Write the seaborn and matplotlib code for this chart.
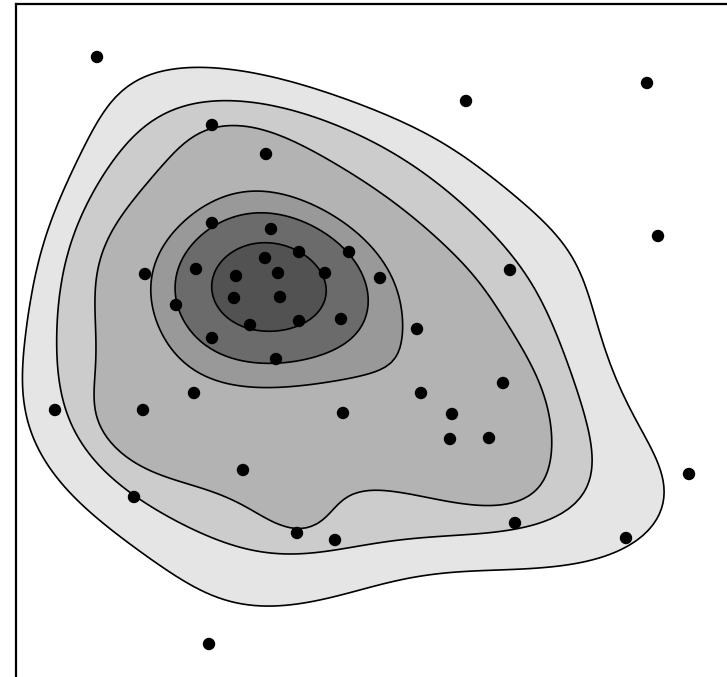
import matplotlib
matplotlib.use("Agg")
import matplotlib.pyplot as plt
import seaborn as sns
import pandas as pd
from matplotlib.colors import ListedColormap

# point positions (x to the right, y upward)
xs = [97, 647, 466, 212, 266, 658, 212, 271, 299, 349, 265, 196, 145, 236, 278,
      325, 510, 380, 234, 280, 176, 341, 299, 250, 417, 212, 276, 503, 194, 421,
      55, 143, 343, 452, 489, 450, 243, 689, 134, 515, 297, 335, 626, 209]
ys_px = [57, 83, 101, 125, 154, 236, 223, 229, 252, 252, 258, 269, 274, 276, 273,
         273, 270, 278, 298, 297, 305, 319, 321, 325, 329, 338, 359, 383, 393, 393,
         410, 410, 413, 414, 438, 439, 470, 474, 497, 523, 533, 540, 538, 644]
ys = [677 - v for v in ys_px]

# outer bands use a wider kernel, inner bands a narrower one
outer_levels = [0.22, 0.32, 1.0]
outer_colors = ["#e5e5e5", "#cccccc"]
inner_levels = [0.37, 0.7, 0.8, 0.92, 1.0]
inner_colors = ["#b3b3b3", "#999999", "#6b6b6b", "#525252"]

df = pd.DataFrame({"x": xs, "y": ys})

sns.set_style("white")
fig = plt.figure(figsize=(7.27, 6.77), dpi=100)
ax = fig.add_axes([16 / 727, 0, 711 / 727, 673 / 677])

for lv, cols, bw in [(outer_levels, outer_colors, 1.15), (inner_levels, inner_colors, 0.85)]:
    sns.kdeplot(data=df, x="x", y="y", fill=True, levels=lv, bw_adjust=bw,
                cmap=ListedColormap(cols), ax=ax)
    sns.kdeplot(data=df, x="x", y="y", fill=False, levels=lv, bw_adjust=bw,
                colors=["black"], linewidths=1.2, ax=ax)

sns.scatterplot(data=df, x="x", y="y", color="black", s=80, edgecolor="none",
                zorder=5, ax=ax)

ax.set_xlim(16, 727)
ax.set_ylim(0, 673)
ax.set_xticks([])
ax.set_yticks([])
ax.set_xlabel("")
ax.set_ylabel("")
for side in ["right", "bottom"]:
    ax.spines[side].set_visible(False)
for side in ["left", "top"]:
    ax.spines[side].set_linewidth(1.6)
    ax.spines[side].set_color("black")

fig.savefig("out.png", dpi=100)
